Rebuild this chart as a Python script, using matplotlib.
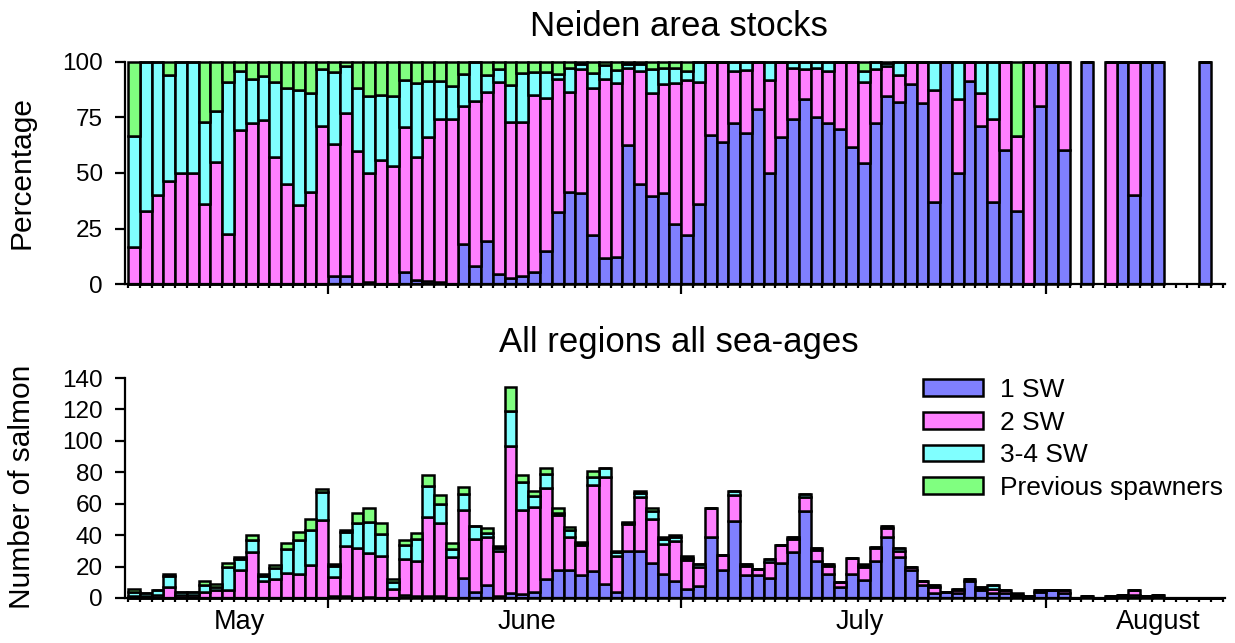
import numpy as np
import matplotlib.pyplot as plt

plt.rcParams['font.family'] = ['Liberation Sans', 'DejaVu Sans']

nan = np.nan
# one bar per day, day 0 = 15 May
days = np.arange(93)

# Neiden area stocks, percentage per sea-age (nan = no catch that day)
neiden_1sw = [0, 0, 0, 0, 0, 0, 0, 0, 0, 0, 0, 0, 0, 0, 0, 0, 0, 3.5, 3.5, 0,
              1, 0, 0, 5.5, 2, 1.5, 1, 0, 18, 8, 19.5, 4.5, 2.5, 3.5, 5.5, 15, 32.5, 41.5, 41, 22,
              11.5, 12, 62.5, 45, 39.5, 41, 27, 22, 36, 67, 64, 72.5, 68, 79, 50, 66, 74.5, 83.5, 75, 72.5,
              70, 61.5, 54.5, 72.5, 84.5, 82, 90, 81.5, 37, 100, 50, 91.5, 71, 37, 60.5, 33, 0, 80, 100, 60.5,
              nan, 100, nan, 0, 100, 40, 100, 100, nan, nan, nan, 100, nan]
neiden_2sw = [16.5, 33, 40, 46.5, 50, 50, 36, 55, 22.5, 69.5, 72.5, 74, 57, 45, 35.5, 41.5, 71, 59.5, 73.5, 60,
              49, 56, 53, 65, 55, 64.5, 73.5, 74.5, 62, 74.5, 67, 86.5, 70.5, 69.5, 79.5, 69, 60, 45, 56, 66.5,
              81, 78.5, 35, 51, 46.5, 49, 63.5, 70, 55, 33, 36, 23.5, 28.5, 21, 42, 34, 23, 13.5, 22.5, 23.5,
              30, 38.5, 36.5, 24.5, 13.5, 12, 10, 18.5, 50.5, 0, 33.5, 8.5, 15, 37.5, 39.5, 33.5, 100, 20, 0, 39.5,
              nan, 0, nan, 100, 0, 60, 0, 0, nan, nan, nan, 0, nan]
neiden_3sw = [50, 67, 60, 47.5, 50, 50, 37, 23, 68.5, 26.5, 20, 19.5, 34, 43.5, 52, 44.5, 26, 32.5, 21, 28.5,
              34.5, 29, 31.5, 21.5, 33.5, 25.5, 17, 14.5, 14.5, 17.5, 7.5, 6, 16.5, 22, 10.5, 11.5, 2, 11, 2, 6.5,
              6, 6, 1.5, 3, 11, 7.5, 7, 4, 9, 0, 0, 4, 3.5, 0, 8, 0, 2.5, 3, 2.5, 4,
              0, 0, 5, 3, 1.5, 6, 0, 0, 12.5, 0, 16.5, 0, 14, 25.5, 0, 0, 0, 0, 0, 0,
              nan, 0, nan, 0, 0, 0, 0, 0, nan, nan, nan, 0, nan]
neiden_prev = [33.5, 0, 0, 6, 0, 0, 27, 22, 9, 4, 7.5, 6.5, 9, 11.5, 12.5, 14, 3, 4.5, 2, 11.5,
               15.5, 15, 15.5, 8, 9.5, 8.5, 8.5, 11, 5.5, 0, 6, 3, 10.5, 5, 4.5, 4.5, 5.5, 2.5, 1, 5,
               1.5, 3.5, 1, 1, 3, 2.5, 2.5, 4, 0, 0, 0, 0, 0, 0, 0, 0, 0, 0, 0, 0,
               0, 0, 4, 0, 0.5, 0, 0, 0, 0, 0, 0, 0, 0, 0, 0, 33.5, 0, 0, 0, 0,
               nan, 0, nan, 0, 0, 0, 0, 0, nan, nan, nan, 0, nan]

# All regions, number of salmon per sea-age
all_1sw = [0, 0, 0, 0, 0, 0, 0, 0, 0, 0, 0, 0, 0, 0, 0, 0, 0, 1, 1, 0,
           0.5, 0, 0, 2, 1, 1.5, 1, 0, 12.5, 3.5, 8.5, 1.5, 3, 2.5, 3.5, 12, 18, 18, 14.5, 17,
           9, 3.5, 30, 30, 22.5, 15.5, 11, 5.5, 7.5, 38.5, 17.5, 49, 14.5, 14.5, 12.5, 22.5, 29, 55.5, 23.5, 15.5,
           7, 15.5, 11.5, 23.5, 38.5, 26, 17.5, 8.5, 3, 4, 3, 11, 5, 3, 3, 1, 0, 4, 5, 3,
           0, 1, 0, 0, 2, 2, 1, 2, 0, 0, 0, 0, 0]
all_2sw = [1, 1, 2, 7, 2, 2, 4, 5, 5, 18, 29, 11, 12, 16, 15, 21, 49.5, 12.5, 32, 32,
           28, 26.5, 6, 23, 22.5, 50, 47, 26, 43.5, 34, 30, 28.5, 94, 53.5, 54.5, 58, 35, 20.5, 19.5, 55,
           68, 23.5, 17, 34, 27.5, 19, 25, 18.5, 12, 18.5, 10, 16.5, 6, 4, 10.5, 11.5, 8.5, 9, 7, 5,
           3, 10, 8, 8, 6, 4, 2, 2, 4, 0, 2, 1, 1, 3, 2, 1, 1, 1, 0, 2,
           0, 0, 0, 1, 0, 3, 0, 0, 0, 0, 0, 0, 0]
all_3sw = [3, 2, 3, 7, 2, 2, 4, 2, 15, 7, 8, 3, 7, 15, 22, 22, 18, 7, 9, 16,
           20, 14.5, 4, 9, 14, 20, 12, 5, 10, 8, 3, 2, 22, 18, 7, 9, 1, 4.5, 1, 5,
           5.5, 2, 1, 3, 5.5, 3, 2.5, 1.5, 2, 0, 0, 2.5, 1, 0, 2, 0, 1, 2, 1, 1,
           0, 0, 1, 1, 1, 2, 0, 0, 1, 0, 1, 0, 1, 2, 0, 0, 0, 0, 0, 0,
           0, 0, 0, 0, 0, 0, 0, 0, 0, 0, 0, 0, 0]
all_prev = [2, 0, 0, 1, 0, 0, 3, 2, 2, 1, 3, 1, 2, 4, 5, 7, 2, 1, 1.5, 6,
            9, 7, 2, 3, 4, 6.5, 5.5, 4, 4.5, 0, 3, 1, 15, 4, 3, 4, 3, 2, 0.5, 4,
            0.5, 1, 0.5, 1, 2, 1.5, 1.5, 1, 0, 0, 0, 0, 0, 0, 0, 0, 0, 0, 0, 0,
            0, 0, 1, 0, 0, 0, 0, 0, 0, 0, 0, 0, 0, 0, 0, 1, 0, 0, 0, 0,
            0, 0, 0, 0, 0, 0, 0, 0, 0, 0, 0, 0, 0]

labels = ['1 SW', '2 SW', '3-4 SW', 'Previous spawners']
colors = ['#8080ff', '#ff80ff', '#80ffff', '#80ff80']
months = ['May', 'June', 'July', 'August']
month_pos = [9.0, 33.4, 61.7, 87.0]
month_edges = [16.5, 46.5, 77.5]


def stack(ax, series):
    bottom = np.zeros(len(days))
    for vals, c, lab in zip(series, colors, labels):
        vals = np.array(vals, dtype=float)
        keep = ~np.isnan(vals)
        ax.bar(days[keep], vals[keep], bottom=bottom[keep], width=1.0, color=c,
               edgecolor='black', linewidth=1.8, label=lab, clip_on=False)
        bottom = bottom + np.nan_to_num(vals)


def style(ax):
    for s in ['top', 'right']:
        ax.spines[s].set_visible(False)
    for s in ['left', 'bottom']:
        ax.spines[s].set_linewidth(1.6)
    ax.set_xlim(-0.76, 92.7)
    ax.set_xticks(month_edges)
    ax.set_xticks(np.arange(-0.5, 93, 1), minor=True)
    ax.set_xticklabels([])
    ax.tick_params(axis='x', which='major', length=7, width=1.6)
    ax.tick_params(axis='x', which='minor', length=3, width=1.6)
    ax.tick_params(axis='y', length=7, width=1.6, labelsize=17.5, pad=9)


fig = plt.figure(figsize=(12.35, 6.43), dpi=100)
ax1 = fig.add_axes([0.1012, 0.5583, 0.8907, 0.3453])
ax2 = fig.add_axes([0.1012, 0.0700, 0.8907, 0.3421])

stack(ax1, [neiden_1sw, neiden_2sw, neiden_3sw, neiden_prev])
style(ax1)
ax1.set_ylim(0, 100)
ax1.set_yticks([0, 25, 50, 75, 100])

stack(ax2, [all_1sw, all_2sw, all_3sw, all_prev])
style(ax2)
ax2.set_ylim(0, 140)
ax2.set_yticks(np.arange(0, 141, 20))
for m, p in zip(months, month_pos):
    ax2.text(p, -0.108, m, transform=ax2.get_xaxis_transform(), ha='center', va='center', fontsize=19.5)

fig.text(678.5 / 1235, 1 - 36 / 643, 'Neiden area stocks', ha='center', va='baseline', fontsize=25)
fig.text(678.5 / 1235, 1 - 352 / 643, 'All regions all sea-ages', ha='center', va='baseline', fontsize=25)
fig.text(22 / 1235, 1 - 172 / 643, 'Percentage', rotation=90, ha='center', va='center', fontsize=21.5)
fig.text(22 / 1235, 1 - 487 / 643, 'Number of salmon', rotation=90, ha='center', va='center', fontsize=21.5)

ax2.legend(loc='upper left', bbox_to_anchor=(923 / 1235, 1 - 378 / 643), bbox_transform=fig.transFigure,
           frameon=False, fontsize=19, borderpad=0, borderaxespad=0, handlelength=2.27,
           handleheight=0.6, handletextpad=0.64, labelspacing=0.33)

fig.savefig('out.png', dpi=100)
